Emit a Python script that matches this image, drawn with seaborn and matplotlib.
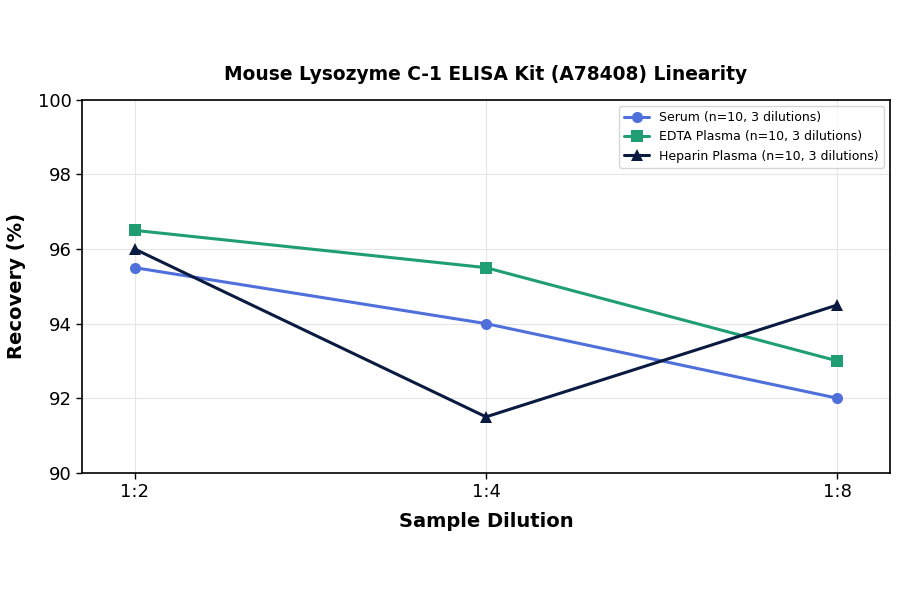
import numpy as np
import pandas as pd
import seaborn as sns
import matplotlib.pyplot as plt

# linearity data
dilutions = ["1:2", "1:4", "1:8"]
serum = [95.5, 94.0, 92.0]
edta = [96.5, 95.5, 93.0]
heparin = [96.0, 91.5, 94.5]
series_names = ["Serum (n=10, 3 dilutions)",
                "EDTA Plasma (n=10, 3 dilutions)",
                "Heparin Plasma (n=10, 3 dilutions)"]

df = pd.DataFrame({
    "Sample Dilution": dilutions * 3,
    "Recovery": serum + edta + heparin,
    "Series": np.repeat(series_names, 3),
})

sns.set_style("white")
plt.rcParams['font.family'] = ['DejaVu Sans']
plt.rcParams['text.color'] = 'black'
plt.rcParams['axes.labelcolor'] = 'black'
plt.rcParams['xtick.color'] = 'black'
plt.rcParams['ytick.color'] = 'black'

colors = ["#4f6fdb", "#1f9e74", "#0b1a40"]
markers = ["o", "s", "^"]

fig, ax = plt.subplots(figsize=(9, 5.94), dpi=100)
sns.lineplot(data=df, x="Sample Dilution", y="Recovery", hue="Series",
             style="Series", markers=markers, dashes=False, palette=colors,
             linewidth=2.2, markersize=8, markeredgewidth=0, ax=ax, sort=False)

ax.set_ylim(90, 100)
ax.set_xlim(-0.15, 2.15)
ax.set_yticks([90, 92, 94, 96, 98, 100])
ax.grid(True, color="#e6e6e6", linewidth=0.8)
ax.set_axisbelow(True)
for s in ax.spines.values():
    s.set_visible(True)
    s.set_color("black")
    s.set_linewidth(1.2)
ax.tick_params(axis="both", labelsize=13, length=4, width=1, left=True, bottom=True)
ax.set_xlabel("Sample Dilution", fontsize=14, fontweight="bold", labelpad=8)
ax.set_ylabel("Recovery (%)", fontsize=14, fontweight="bold", labelpad=8)
ax.set_title("Mouse Lysozyme C-1 ELISA Kit (A78408) Linearity",
             fontsize=13.4, fontweight="bold", pad=14)
ax.legend(loc="upper right", fontsize=9, frameon=True, title=None)

plt.subplots_adjust(left=0.091, right=0.989, top=0.832, bottom=0.204)
plt.savefig("out.png", dpi=100)
